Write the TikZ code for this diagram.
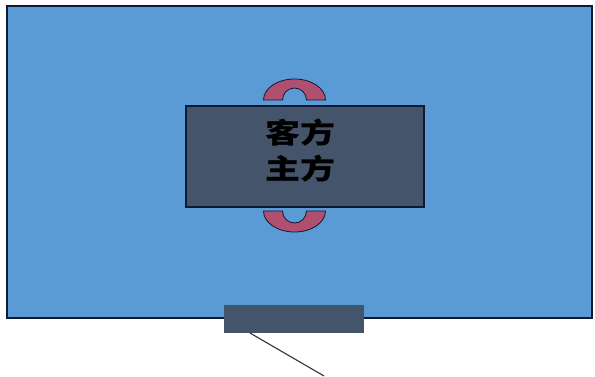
\documentclass[tikz,border=0pt]{standalone}
\usepackage{fontspec}
\newfontfamily\cjk{Noto Sans CJK SC}
\definecolor{bg}{HTML}{5B9BD5}
\definecolor{slate}{HTML}{44546A}
\definecolor{navy}{HTML}{0E1A33}
\definecolor{rose}{HTML}{B05070}
\tikzset{
  every picture/.style={x=1pt,y=1pt},
  panel/.style={draw=navy,line width=1.5pt,fill=bg},
  mainbox/.style={draw=navy,line width=1.2pt,fill=slate,minimum width=238pt,minimum height=101pt,inner sep=0pt},
  caption/.style={align=center,inner sep=0pt,font=\cjk\bfseries\fontsize{28}{38}\selectfont},
  basebox/.style={fill=slate,minimum width=140pt,minimum height=28pt,inner sep=0pt},
  handle/.style={draw=navy,line width=0.8pt,fill=rose},
  lead/.style={draw=black!80,line width=1.1pt}
}
\begin{document}
\begin{tikzpicture}
\useasboundingbox (0,0) rectangle (595,376);
\fill[white] (0,0) rectangle (595,376);
\draw[panel] (7,58) rectangle (592,370);
\draw[handle] (263.5,276) arc[start angle=180,end angle=0,x radius=31,y radius=21] -- (306.5,276) arc[start angle=0,end angle=180,x radius=12,y radius=12] -- cycle;
\draw[handle] (263.5,165) arc[start angle=180,end angle=360,x radius=31,y radius=21] -- (306.5,165) arc[start angle=360,end angle=180,x radius=12,y radius=12] -- cycle;
\node[mainbox] (box) at (305,219.5) {};
\node[caption] (txt) at (300,225) {\scalebox{1.25}[1]{客方}\\[-2pt]\scalebox{1.25}[1]{主方}};
\node[basebox] (base) at (294,57) {};
\coordinate (start) at (250,43);
\coordinate (tail) at (324,0);
\draw[lead] (start) -- (tail);
\end{tikzpicture}
\end{document}
